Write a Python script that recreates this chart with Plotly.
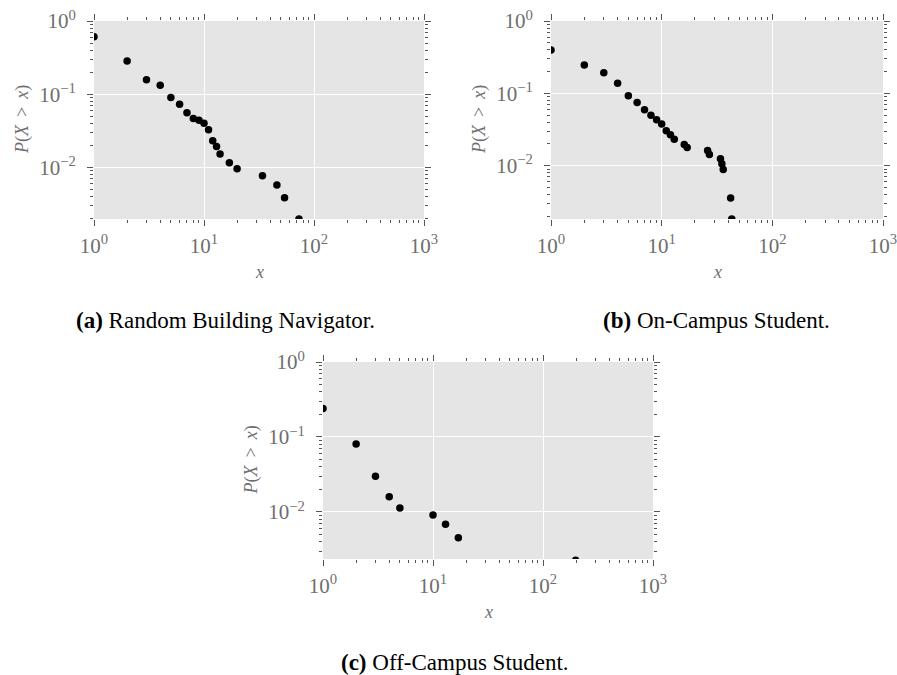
import plotly.graph_objects as go

# ---- data ----
a_x = [1, 2, 3, 4, 5, 6, 7, 8, 9, 10, 11, 12, 13, 14, 17, 20, 34, 46, 54, 73]
a_y = [0.61, 0.285, 0.157, 0.133, 0.090, 0.073, 0.0556, 0.0465, 0.0442, 0.0402,
       0.0326, 0.0231, 0.0193, 0.0153, 0.01155, 0.0096, 0.00767, 0.00573, 0.00385, 0.00197]

b_x = [1, 2, 3, 4, 5, 6, 7, 8, 9, 10, 11, 12, 13, 16, 17, 26, 27, 34, 35, 36, 42, 43]
b_y = [0.398, 0.247, 0.192, 0.138, 0.0924, 0.0748, 0.0592, 0.050, 0.0431, 0.0376,
       0.0304, 0.0268, 0.0233, 0.0197, 0.0179, 0.01626, 0.01432, 0.0125, 0.01066,
       0.0089, 0.00358, 0.00184]

c_x = [1, 2, 3, 4, 5, 10, 13, 17, 198]
c_y = [0.239, 0.0807, 0.0299, 0.0160, 0.0113, 0.00912, 0.00685, 0.00455, 0.00227]

x_tickvals = [1, 10, 100, 1000]
x_ticktext = ["10<sup>0</sup>", "10<sup>1</sup>", "10<sup>2</sup>", "10<sup>3</sup>"]
y_tickvals = [1, 0.1, 0.01]
y_ticktext = ["10<sup>0</sup>", "10<sup>\u22121</sup>", "10<sup>\u22122</sup>"]

captions = ["<b>(a)</b> Random Building Navigator.",
            "<b>(b)</b> On-Campus Student.",
            "<b>(c)</b> Off-Campus Student."]
y_title = "<i>P</i>(<i>X</i> \u2009>\u2009 <i>x</i>)"
x_title = "<i>x</i>"

# ---- layout constants ----
W, H = 897, 675
SERIF = "Liberation Serif"
GREY = "#6e6e6e"
TICKC = "#555555"

panels = [
    dict(x=a_x, y=a_y, px=(94, 424), py=(21, 219), ybot=-2.705),
    dict(x=b_x, y=b_y, px=(551, 883), py=(21, 219), ybot=-2.736),
    dict(x=c_x, y=c_y, px=(323, 653), py=(362, 559), ybot=-2.627),
]

minor_x = [k * 10 ** d for d in range(0, 3) for k in range(2, 10)]
minor_y = [k * 10.0 ** d for d in range(-3, 0) for k in range(2, 10)]

fig = go.Figure()
for i, p in enumerate(panels):
    n = "" if i == 0 else str(i + 1)
    fig.add_trace(go.Scatter(
        x=p["x"], y=p["y"], mode="markers",
        marker=dict(color="black", size=7.5, line=dict(width=0)),
        xaxis="x" + n, yaxis="y" + n, showlegend=False, hoverinfo="x+y"))
    common = dict(
        type="log", showline=False, zeroline=False, automargin=False,
        ticks="outside", ticklen=6, tickwidth=1, tickcolor=TICKC,
        mirror="allticks", ticklabeloverflow="allow",
        showgrid=True, gridcolor="white", gridwidth=1.2,
        tickfont=dict(family=SERIF, size=21, color=GREY),
        minor=dict(ticks="outside", ticklen=3, tickwidth=1, tickcolor=TICKC,
                   showgrid=False),
    )
    fig.layout["xaxis" + n] = dict(
        common, domain=[p["px"][0] / W, p["px"][1] / W], range=[0, 3],
        anchor="y" + n, tickmode="array", tickvals=x_tickvals, ticktext=x_ticktext,
        ticklabelstandoff=2,
        minor=dict(common["minor"], tickmode="array", tickvals=minor_x),
    )
    fig.layout["yaxis" + n] = dict(
        common, domain=[1 - p["py"][1] / H, 1 - p["py"][0] / H],
        range=[p["ybot"], 0], anchor="x" + n,
        tickmode="array", tickvals=y_tickvals, ticktext=y_ticktext,
        ticklabelstandoff=7,
        minor=dict(common["minor"], tickmode="array", tickvals=minor_y),
    )
    cx = (p["px"][0] + p["px"][1]) / 2
    fig.add_annotation(x=cx / W, y=1 - (p["py"][1] + 53) / H, xref="paper", yref="paper",
                       text=x_title, showarrow=False,
                       font=dict(family=SERIF, size=18, color=GREY),
                       xanchor="center", yanchor="middle")
    fig.add_annotation(x=(p["px"][0] - 72) / W, y=1 - ((p["py"][0] + p["py"][1]) / 2) / H,
                       xref="paper", yref="paper", text=y_title, showarrow=False,
                       textangle=-90, font=dict(family=SERIF, size=18, color=GREY),
                       xanchor="center", yanchor="middle")

cap_pos = [(225, 321), (716, 321), (455, 662)]
for t, (cx, cy) in zip(captions, cap_pos):
    fig.add_annotation(x=cx / W, y=1 - cy / H, xref="paper", yref="paper",
                       text=t, showarrow=False,
                       font=dict(family=SERIF, size=23, color="black"),
                       xanchor="center", yanchor="middle")

fig.update_layout(
    width=W, height=H, margin=dict(l=0, r=0, t=0, b=0),
    paper_bgcolor="white", plot_bgcolor="#E5E5E5",
)

fig.write_html("out.html")
